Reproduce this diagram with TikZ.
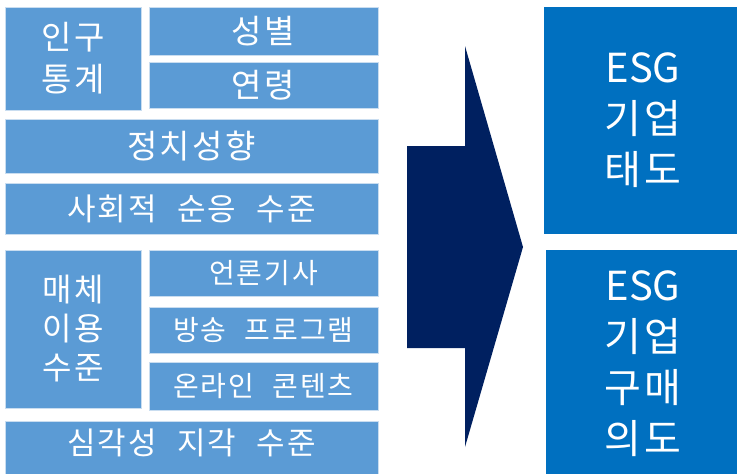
\documentclass[tikz,border=0pt]{standalone}
\usepackage{fontspec}
\setmainfont[WordSpace=2.2,LetterSpace=7]{Noto Sans CJK KR}
\newfontfamily\latinfam{Noto Sans CJK KR}
\definecolor{lightblue}{HTML}{5B9BD5}
\definecolor{lightedge}{HTML}{C9DDF0}
\definecolor{navy}{HTML}{002060}
\definecolor{midblue}{HTML}{0070C0}
\begin{document}
\begin{tikzpicture}[x=1pt,y=-1pt,
  lbox/.style={draw=lightedge, line width=0.8pt, fill=lightblue, text=white, align=center, inner sep=0pt},
  rbox/.style={fill=midblue, text=white, align=center, inner sep=0pt,
    font=\fontsize{40}{51}\selectfont},
  bigtxt/.style={font=\fontsize{33}{42}\selectfont},
  midtxt/.style={font=\fontsize{31}{39}\selectfont},
  smalltxt/.style={font=\fontsize{28}{34}\selectfont}]
\useasboundingbox (0,0) rectangle (737,474);
\clip (0,0) rectangle (737,474);
\fill[white] (0,0) rectangle (737,474);
% left column
\node[lbox, bigtxt, minimum width=136pt, minimum height=103pt] (demo) at (73,58.5) {인구\\통계};
\node[lbox, bigtxt, minimum width=229pt, minimum height=48pt] (gender) at (263.5,31) {성별};
\node[lbox, bigtxt, minimum width=229pt, minimum height=46pt] (age) at (263.5,85) {연령};
\node[lbox, bigtxt, minimum width=373pt, minimum height=54pt] (politics) at (191.5,146) {정치성향};
\node[lbox, midtxt, minimum width=373pt, minimum height=51pt] (social) at (191.5,208.5) {사회적 순응 수준};
\node[lbox, font=\fontsize{32}{39}\selectfont, minimum width=136pt, minimum height=158pt] (media) at (73,329) {매체\\이용\\수준};
\node[lbox, smalltxt, minimum width=229pt, minimum height=46pt] (news) at (263.5,273) {언론기사};
\node[lbox, smalltxt, minimum width=229pt, minimum height=46pt] (broadcast) at (263.5,330) {방송 프로그램};
\node[lbox, smalltxt, minimum width=229pt, minimum height=48pt] (online) at (263.5,386) {온라인 콘텐츠};
\node[lbox, minimum width=373pt, minimum height=60pt] (severity) at (191.5,451) {};
\node[text=white, midtxt, inner sep=0pt] (severitytext) at (191.5,443) {심각성 지각 수준};
% arrow
\fill[navy] (407,146) -- (465,146) -- (465,46) -- (523,247) coordinate (tip) -- (465,447) -- (465,348) -- (407,348) -- cycle;
% right column
\node[rbox, minimum width=198pt, minimum height=227pt] (attitude) at (643,120.5) {{\latinfam ESG}\\기업\\태도};
\node[rbox, minimum width=194pt, minimum height=228pt] (intent) at (643,364) {{\latinfam ESG}\\기업\\구매\\의도};
\end{tikzpicture}
\end{document}
